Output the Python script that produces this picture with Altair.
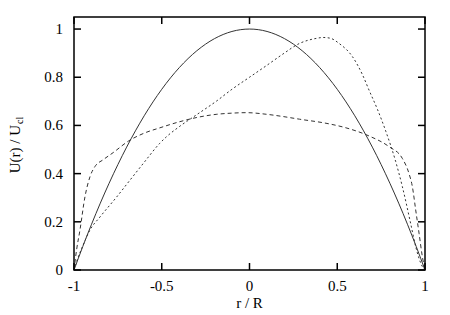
import altair as alt
import pandas as pd

# Solid: laminar profile
solid_r = [-1.0, -0.95, -0.9, -0.8, -0.7, -0.6, -0.5, -0.4, -0.3, -0.2, -0.1, 0.0,
           0.1, 0.2, 0.3, 0.4, 0.5, 0.6, 0.7, 0.8, 0.9, 0.95, 1.0]
solid_u = [0.0, 0.0975, 0.19, 0.36, 0.51, 0.64, 0.75, 0.84, 0.91, 0.96, 0.99, 1.0,
           0.99, 0.96, 0.91, 0.84, 0.75, 0.64, 0.51, 0.36, 0.19, 0.0975, 0.0]

# Dashed: flat profile
dash_r = [-1.0, -0.985, -0.966, -0.9375, -0.909, -0.881, -0.833, -0.777, -0.69,
          -0.6, -0.511, -0.4, -0.3, -0.19, -0.1, -0.019, 0.1, 0.19, 0.284, 0.436, 0.55,
          0.682, 0.795, 0.871, 0.909, 0.928, 0.947, 0.966, 0.985, 1.0]
dash_u = [0.0, 0.085, 0.166, 0.304, 0.387, 0.429, 0.458, 0.487, 0.535,
          0.568, 0.59, 0.615, 0.633, 0.646, 0.651, 0.653, 0.646, 0.637, 0.626, 0.609, 0.59,
          0.556, 0.512, 0.463, 0.40, 0.346, 0.249, 0.153, 0.055, 0.0]

# Dotted: skewed profile
dot_r = [-1.0, -0.985, -0.95, -0.909, -0.852, -0.757, -0.682, -0.6, -0.511, -0.473,
         -0.4, -0.3, -0.19, -0.1, 0.0, 0.1, 0.19, 0.284, 0.379, 0.42, 0.46, 0.511,
         0.587, 0.644, 0.682, 0.73, 0.777, 0.833, 0.871, 0.918, 0.947, 0.985, 1.0]
dot_u = [0.0, 0.035, 0.10, 0.166, 0.22, 0.303, 0.372, 0.447, 0.526, 0.553,
         0.595, 0.645, 0.70, 0.75, 0.80, 0.85, 0.896, 0.94, 0.961, 0.965, 0.962, 0.94,
         0.885, 0.81, 0.745, 0.665, 0.575, 0.45, 0.346, 0.194, 0.097, 0.014, 0.0]

x_ticks = [-1, -0.5, 0, 0.5, 1]
x_labels = ["-1", "-0.5", "0", "0.5", "1"]
y_ticks = [0, 0.2, 0.4, 0.6, 0.8, 1]
y_labels = ["0", "0.2", "0.4", "0.6", "0.8", "1"]
x_title = "r / R"
y_title = "U(r) / U"
y_title_sub = "cl"

FONT = "Liberation Serif"
LINE = "#333333"
W, H, TICK = 351, 253, 7

solid_df = pd.DataFrame({"r": solid_r, "U": solid_u})
dash_df = pd.DataFrame({"r": dash_r, "U": dash_u})
dot_df = pd.DataFrame({"r": dot_r, "U": dot_u})
xt_df = pd.DataFrame({"r": x_ticks, "lab": x_labels})
yt_df = pd.DataFrame({"U": y_ticks, "lab": y_labels})
title_df = pd.DataFrame({"x": [x_title], "t": [y_title], "s": [y_title_sub]})

xscale = alt.Scale(domain=[-1, 1], nice=False, zero=False)
yscale = alt.Scale(domain=[0, 1.05], nice=False)


def X():
    return alt.X("r:Q", scale=xscale, axis=None)


def Y():
    return alt.Y("U:Q", scale=yscale, axis=None)


solid = alt.Chart(solid_df).mark_line(color=LINE, strokeWidth=1, interpolate="monotone").encode(
    x=X(), y=Y())
dashed = alt.Chart(dash_df).mark_line(color=LINE, strokeWidth=1, strokeDash=[4, 3],
                                      interpolate="monotone").encode(x=X(), y=Y())
dotted = alt.Chart(dot_df).mark_line(color=LINE, strokeWidth=1, strokeDash=[2, 2.5],
                                     interpolate="monotone").encode(x=X(), y=Y())

# inward tick marks on all four sides (gnuplot style)
tick_style = dict(color="black", strokeWidth=1.5)
t_bottom = alt.Chart(xt_df).mark_rule(**tick_style).encode(
    x=X(), y=alt.value(H), y2=alt.value(H - TICK))
t_top = alt.Chart(xt_df).mark_rule(**tick_style).encode(
    x=X(), y=alt.value(0), y2=alt.value(TICK))
t_left = alt.Chart(yt_df).mark_rule(**tick_style).encode(
    y=Y(), x=alt.value(0), x2=alt.value(TICK))
t_right = alt.Chart(yt_df).mark_rule(**tick_style).encode(
    y=Y(), x=alt.value(W), x2=alt.value(W - TICK))

# tick labels
text_style = dict(font=FONT, fontSize=15, color="black")
xlab = alt.Chart(xt_df).mark_text(align="center", baseline="alphabetic", **text_style).encode(
    x=X(), y=alt.value(H + 20.5), text="lab:N")
ylab = alt.Chart(yt_df).mark_text(align="right", baseline="alphabetic", dy=5, **text_style).encode(
    y=Y(), x=alt.value(-11), text="lab:N")

# axis titles
xtitle = alt.Chart(title_df).mark_text(align="center", baseline="alphabetic", **text_style).encode(
    x=alt.value(W / 2), y=alt.value(H + 38), text="x:N")
ytitle = alt.Chart(title_df).mark_text(
    angle=270, align="right", baseline="alphabetic", font=FONT, fontSize=15, color="black"
).encode(x=alt.value(-54), y=alt.value(108), text="t:N")
ysub = alt.Chart(title_df).mark_text(
    angle=270, align="left", baseline="alphabetic", font=FONT, fontSize=10, color="black"
).encode(x=alt.value(-51.5), y=alt.value(107), text="s:N")

chart = alt.layer(
    solid, dashed, dotted, t_bottom, t_top, t_left, t_right,
    xlab, ylab, xtitle, ytitle, ysub
).properties(
    width=W, height=H,
    autosize=alt.AutoSizeParams(type="none"),
    padding={"left": 74, "top": 17, "right": 25, "bottom": 45},
    background="white",
).configure_view(stroke="black", strokeWidth=1.5)

chart.save("out.html", embed_options={"renderer": "svg", "actions": False})
